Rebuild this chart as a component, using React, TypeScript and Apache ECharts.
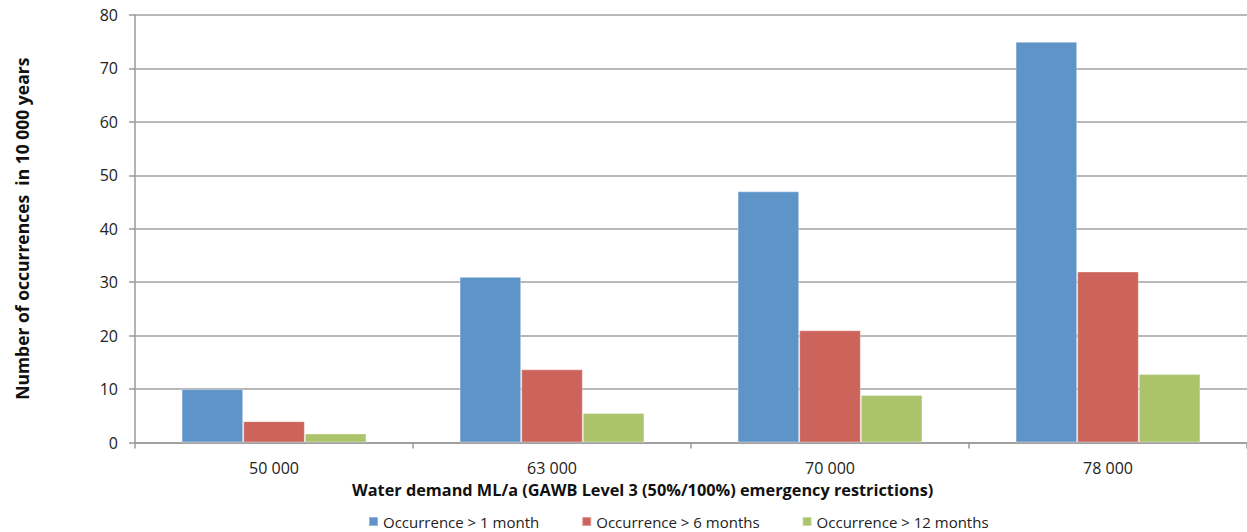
import React, { useEffect, useRef } from "react";
import * as echarts from "echarts";

const categories = ["50 000", "63 000", "70 000", "78 000"];
const seriesNames = ["Occurrence > 1 month", "Occurrence > 6 months", "Occurrence > 12 months"];
const oneMonth = [10, 31, 47, 75];
const sixMonths = [4, 13.7, 21, 32];
const twelveMonths = [1.7, 5.5, 8.9, 12.8];
const colors = ["#5f94c8", "#cc645c", "#abc46c"];
const xTitle = "Water demand ML/a (GAWB Level 3 (50%/100%) emergency restrictions)";
const yTitle = "Number of occurrences  in 10 000 years";

const FONT = "'Open Sans', Lato, sans-serif";

export default function App() {
  const ref = useRef<HTMLDivElement>(null);
  useEffect(() => {
    if (!ref.current) return;
    const chart = echarts.init(ref.current, null, { renderer: "svg" });
    const values = [oneMonth, sixMonths, twelveMonths];
    chart.setOption({
      animation: false,
      backgroundColor: "#ffffff",
      textStyle: { fontFamily: FONT },
      grid: { left: 135, right: -5, top: 15, bottom: 89.5, containLabel: false },
      legend: {
        top: 514,
        left: 368,
        padding: 0,
        itemWidth: 9,
        itemHeight: 9,
        itemGap: 42,
        icon: "rect",
        textStyle: { fontSize: 15, color: "#222", fontFamily: FONT },
        data: seriesNames,
      },
      graphic: [
        {
          type: "text",
          left: 352,
          top: 482,
          style: {
            text: xTitle,
            font: "bold 16.3px " + FONT,
            fill: "#111",
          },
        },
      ],
      xAxis: {
        type: "category",
        data: categories,
        axisLine: { lineStyle: { color: "#9a9a9a", width: 1.5 } },
        axisTick: { show: true, length: 6, lineStyle: { color: "#9a9a9a", width: 1.5 } },
        axisLabel: { color: "#222", fontSize: 16, margin: 17, fontFamily: FONT },
        splitLine: { show: false },
      },
      yAxis: {
        type: "value",
        min: 0,
        max: 80,
        interval: 10,
        name: yTitle,
        nameLocation: "middle",
        nameGap: 104,
        nameTextStyle: { fontSize: 17.5, fontWeight: "bold", color: "#111", fontFamily: FONT },
        axisLine: { show: true, lineStyle: { color: "#9a9a9a", width: 1.5 } },
        axisTick: { show: true, length: 6, lineStyle: { color: "#9a9a9a", width: 1.5 } },
        axisLabel: { color: "#222", fontSize: 16, margin: 17, fontFamily: FONT },
        splitLine: { show: true, lineStyle: { color: "#a0a0a0", width: 1.5 } },
      },
      series: seriesNames.map((name, i) => ({
        name,
        type: "bar",
        data: values[i],
        barGap: "0%",
        barCategoryGap: "33.5%",
        itemStyle: { color: colors[i], borderColor: "rgba(255,255,255,0.35)", borderWidth: 1 },
      })),
    });
    return () => chart.dispose();
  }, []);
  return (
    <div
      ref={ref}
      style={{ position: "absolute", left: 0, top: 0, width: 1247, height: 532 }}
    />
  );
}
